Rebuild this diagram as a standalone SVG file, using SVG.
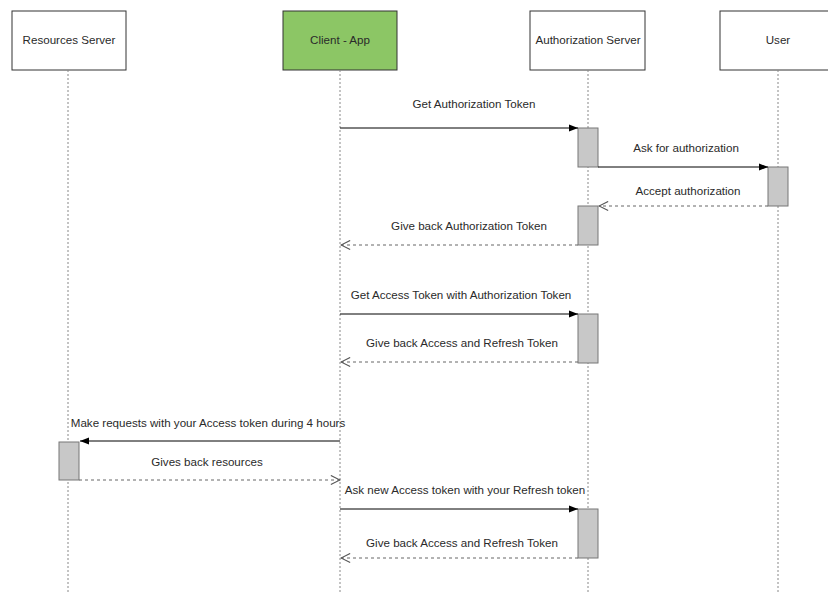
<svg xmlns="http://www.w3.org/2000/svg" width="828" height="592" viewBox="0 0 828 592">
<defs>
<marker id="fill" viewBox="0 0 10 10" refX="10" refY="5" markerWidth="9" markerHeight="9" markerUnits="userSpaceOnUse" orient="auto">
<path d="M0,1 L10,5 L0,9 Z" fill="#000"/>
</marker>
<marker id="open" viewBox="0 0 12 12" refX="11" refY="6" markerWidth="11" markerHeight="11" markerUnits="userSpaceOnUse" orient="auto">
<path d="M1,1 L11,6 L1,11" fill="none" stroke="#555" stroke-width="1.2"/>
</marker>
</defs>
<style>
.box{fill:#fff;stroke:#333;stroke-width:1}
.life{stroke:#888;stroke-width:1;stroke-dasharray:2 2;fill:none}
.act{fill:#c8c8c8;stroke:#777;stroke-width:1}
.t{font-family:"Liberation Sans",Arial,sans-serif;font-size:11.6px;fill:#2a2a2a;text-anchor:middle}
.msg{stroke:#000;stroke-width:1;fill:none}
.ret{stroke:#666;stroke-width:1;stroke-dasharray:3 3;fill:none}
</style>
<rect width="828" height="592" fill="#fff"/>
<g id="resources-server">
<rect class="box" x="12" y="11" width="114" height="59"/>
<text class="t" x="69" y="44">Resources Server</text>
<line class="life" x1="68" y1="70" x2="68" y2="592"/>
</g>
<g id="client-app">
<rect class="box" x="283" y="11" width="114" height="59" style="fill:#8cc665"/>
<text class="t" x="340" y="44">Client - App</text>
<line class="life" x1="340" y1="70" x2="340" y2="592"/>
</g>
<g id="authorization-server">
<rect class="box" x="530" y="11" width="115" height="59"/>
<text class="t" x="588" y="44">Authorization Server</text>
<line class="life" x1="588" y1="70" x2="588" y2="592"/>
</g>
<g id="user">
<rect class="box" x="720" y="11" width="115" height="59"/>
<text class="t" x="778" y="44">User</text>
<line class="life" x1="778" y1="70" x2="778" y2="592"/>
</g>
<g id="activations">
<rect class="act" x="578" y="128" width="20" height="39"/>
<rect class="act" x="768" y="167" width="20" height="39"/>
<rect class="act" x="578" y="206" width="20" height="39"/>
<rect class="act" x="578" y="314" width="20" height="49"/>
<rect class="act" x="59" y="442" width="20" height="38"/>
<rect class="act" x="578" y="509" width="20" height="49"/>
</g>
<g id="connectors">
<line class="msg" x1="340" y1="128" x2="578" y2="128" marker-end="url(#fill)"/>
<line class="msg" x1="598" y1="167" x2="768" y2="167" marker-end="url(#fill)"/>
<line class="ret" x1="768" y1="206" x2="599" y2="206" marker-end="url(#open)"/>
<line class="ret" x1="578" y1="245" x2="341" y2="245" marker-end="url(#open)"/>
<line class="msg" x1="340" y1="314" x2="578" y2="314" marker-end="url(#fill)"/>
<line class="ret" x1="578" y1="362" x2="341" y2="362" marker-end="url(#open)"/>
<line class="msg" x1="340" y1="441" x2="80" y2="441" marker-end="url(#fill)"/>
<line class="ret" x1="79" y1="480" x2="340" y2="480" marker-end="url(#open)"/>
<line class="msg" x1="340" y1="509" x2="578" y2="509" marker-end="url(#fill)"/>
<line class="ret" x1="578" y1="558" x2="341" y2="558" marker-end="url(#open)"/>
</g>
<g id="labels">
<text class="t" x="474" y="108">Get Authorization Token</text>
<text class="t" x="686" y="152">Ask for authorization</text>
<text class="t" x="688" y="195">Accept authorization</text>
<text class="t" x="469" y="230">Give back Authorization Token</text>
<text class="t" x="461" y="299">Get Access Token with Authorization Token</text>
<text class="t" x="462" y="347">Give back Access and Refresh Token</text>
<text class="t" x="208" y="427">Make requests with your Access token during 4 hours</text>
<text class="t" x="207" y="466">Gives back resources</text>
<text class="t" x="465" y="494">Ask new Access token with your Refresh token</text>
<text class="t" x="462" y="547">Give back Access and Refresh Token</text>
</g>
</svg>
